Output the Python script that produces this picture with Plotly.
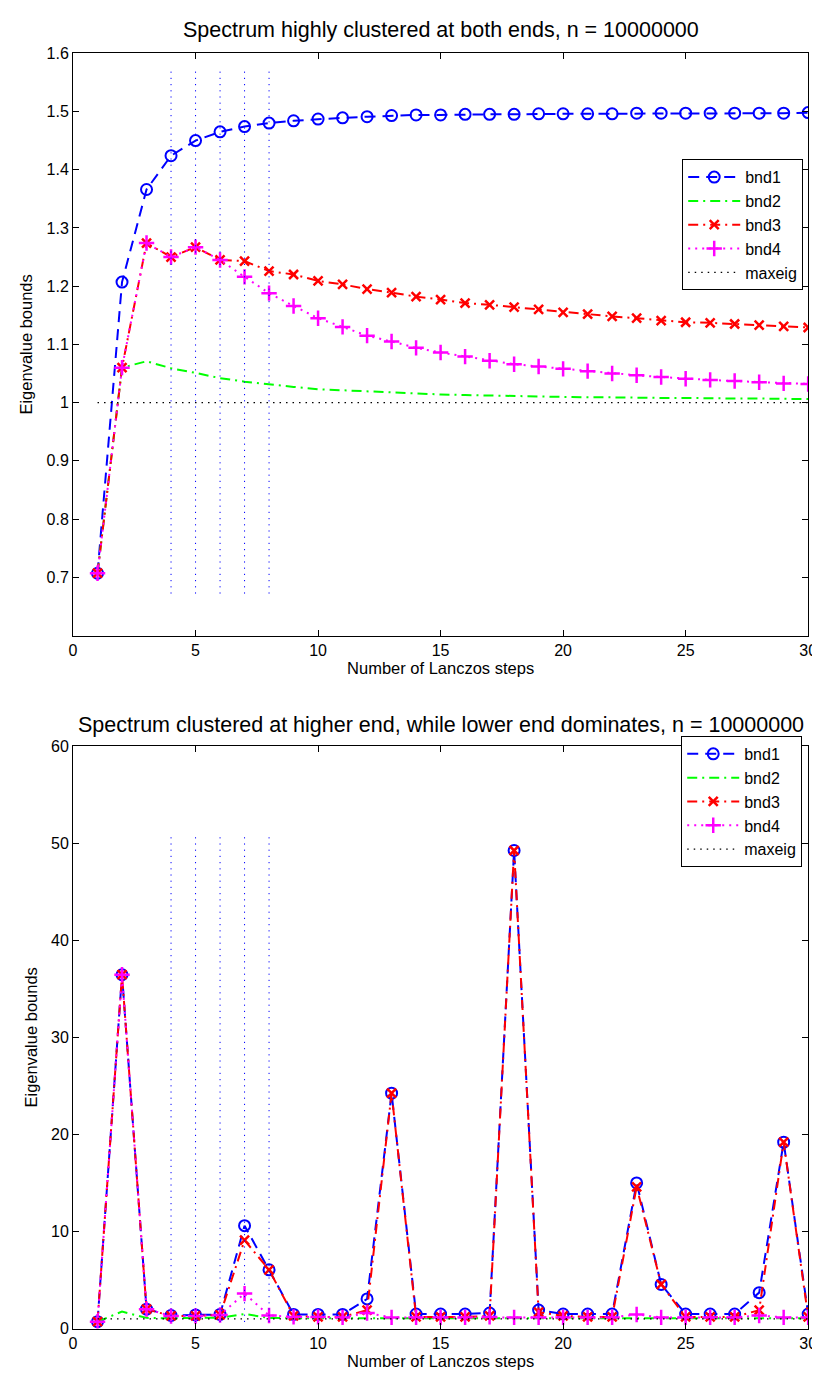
import plotly.graph_objects as go

steps = [1, 2, 3, 4, 5, 6, 7, 8, 9, 10, 11, 12, 13, 14, 15,
         16, 17, 18, 19, 20, 21, 22, 23, 24, 25, 26, 27, 28, 29, 30]

# ---- top panel: spectrum highly clustered at both ends ----
top_bnd1 = [0.707, 1.207, 1.366, 1.424, 1.450, 1.465, 1.474, 1.480, 1.484, 1.487,
            1.489, 1.491, 1.493, 1.494, 1.494, 1.495, 1.495, 1.495, 1.496, 1.496,
            1.496, 1.496, 1.497, 1.497, 1.497, 1.497, 1.497, 1.497, 1.497, 1.498]
top_bnd2 = [0.707, 1.060, 1.071, 1.059, 1.051, 1.042, 1.036, 1.031, 1.027, 1.023,
            1.021, 1.019, 1.017, 1.015, 1.014, 1.013, 1.012, 1.011, 1.011, 1.010,
            1.009, 1.009, 1.008, 1.008, 1.008, 1.007, 1.007, 1.007, 1.006, 1.006]
top_bnd3 = [0.707, 1.060, 1.274, 1.250, 1.267, 1.245, 1.243, 1.226, 1.220, 1.209,
            1.203, 1.195, 1.189, 1.182, 1.177, 1.171, 1.168, 1.164, 1.160, 1.155,
            1.152, 1.148, 1.145, 1.141, 1.138, 1.137, 1.135, 1.133, 1.131, 1.129]
top_bnd4 = [0.707, 1.060, 1.274, 1.250, 1.267, 1.245, 1.216, 1.188, 1.166, 1.145,
            1.130, 1.115, 1.105, 1.094, 1.086, 1.079, 1.072, 1.066, 1.062, 1.058,
            1.054, 1.050, 1.047, 1.044, 1.041, 1.039, 1.037, 1.035, 1.033, 1.032]
top_maxeig = 1.0
top_vline_range = [0.672, 1.570]

# ---- bottom panel: clustered at higher end, lower end dominates ----
bot_bnd1 = [0.707, 36.45, 2.0, 1.35, 1.4, 1.45, 10.6, 6.05, 1.45, 1.45,
            1.45, 3.05, 24.25, 1.5, 1.5, 1.5, 1.6, 49.25, 1.9, 1.5,
            1.5, 1.5, 15.0, 4.55, 1.5, 1.5, 1.5, 3.7, 19.2, 1.5]
bot_bnd2 = [0.707, 1.75, 1.1, 1.05, 1.1, 1.1, 1.5, 1.1, 1.05, 1.05,
            1.05, 1.1, 1.05, 1.05, 1.05, 1.05, 1.05, 1.05, 1.05, 1.05,
            1.05, 1.05, 1.05, 1.05, 1.05, 1.05, 1.05, 1.05, 1.05, 1.05]
bot_bnd3 = [0.707, 36.45, 2.0, 1.3, 1.3, 1.4, 9.1, 6.05, 1.3, 1.2,
            1.2, 1.9, 24.25, 1.2, 1.2, 1.2, 1.3, 49.25, 1.7, 1.3,
            1.2, 1.2, 14.6, 4.55, 1.2, 1.2, 1.2, 1.9, 19.2, 1.2]
bot_bnd4 = [0.707, 36.45, 2.0, 1.3, 1.3, 1.4, 3.6, 1.35, 1.2, 1.2,
            1.15, 1.6, 1.15, 1.15, 1.15, 1.15, 1.2, 1.15, 1.15, 1.15,
            1.15, 1.15, 1.45, 1.15, 1.15, 1.15, 1.15, 1.35, 1.15, 1.15]
bot_maxeig = 1.0
bot_vline_range = [0.672, 50.7]

vline_steps = [4, 5, 6, 7, 8]

top_title = "Spectrum highly clustered at both ends, n = 10000000"
bot_title = "Spectrum clustered at higher end, while lower end dominates, n = 10000000"
x_title = "Number of Lanczos steps"
y_title = "Eigenvalue bounds"
x_ticks = [0, 5, 10, 15, 20, 25, 30]
top_y_ticks = [0.7, 0.8, 0.9, 1.0, 1.1, 1.2, 1.3, 1.4, 1.5, 1.6]
top_y_ticktext = ["0.7", "0.8", "0.9", "1", "1.1", "1.2", "1.3", "1.4", "1.5", "1.6"]
bot_y_ticks = [0, 10, 20, 30, 40, 50, 60]

FONT = "Liberation Sans, Arial, Helvetica, sans-serif"

fig = go.Figure()

styles = [
    ("bnd1", "#0000ff", "11px,7px", dict(symbol="circle-open", size=11, line=dict(width=2, color="#0000ff"))),
    ("bnd2", "#00ff00", "10px,5px,2px,5px", None),
    ("bnd3", "#ff0000", "10px,5px,2px,5px", dict(symbol="x-thin-open", size=9, line=dict(width=2.5, color="#ff0000"))),
    ("bnd4", "#ff00ff", "2px,5px", dict(symbol="cross-thin-open", size=11, line=dict(width=2.5, color="#ff00ff"))),
]


def add_panel(xaxis, yaxis, legend, series, maxeig, vrange):
    for (name, color, dash, marker), ys in zip(styles, series):
        fig.add_trace(go.Scatter(
            x=steps, y=ys, name=name, xaxis=xaxis, yaxis=yaxis, legend=legend,
            mode="lines+markers" if marker else "lines",
            line=dict(color=color, width=2, dash=dash),
            marker=marker if marker else None,
        ))
    fig.add_trace(go.Scatter(
        x=[steps[0], steps[-1]], y=[maxeig, maxeig], name="maxeig",
        xaxis=xaxis, yaxis=yaxis, legend=legend, mode="lines",
        line=dict(color="black", width=1.3, dash="1.5px,5px"),
    ))
    vx, vy = [], []
    for s in vline_steps:
        vx += [s, s, None]
        vy += [vrange[0], vrange[1], None]
    fig.add_trace(go.Scatter(
        x=vx, y=vy, xaxis=xaxis, yaxis=yaxis, mode="lines", showlegend=False,
        line=dict(color="#0000ff", width=1, dash="1.2px,5px"), hoverinfo="skip",
    ))


add_panel("x", "y", "legend", [top_bnd1, top_bnd2, top_bnd3, top_bnd4], top_maxeig, top_vline_range)
add_panel("x2", "y2", "legend2", [bot_bnd1, bot_bnd2, bot_bnd3, bot_bnd4], bot_maxeig, bot_vline_range)

axis_common = dict(
    showline=True, linecolor="black", linewidth=1, mirror="ticks",
    ticks="inside", ticklen=6, tickwidth=1, tickcolor="black",
    showgrid=False, zeroline=False,
    tickfont=dict(family=FONT, size=16, color="black"),
)

x_dom = [62 / 820, 809 / 820]
top_dom = [1 - 627.3 / 1373, 1 - 37.7 / 1373]
bot_dom = [1 - 1329 / 1373, 1 - 739.3 / 1373]

fig.update_layout(
    width=820, height=1373,
    margin=dict(l=0, r=0, t=0, b=0),
    paper_bgcolor="white", plot_bgcolor="white",
    font=dict(family=FONT, color="black"),
    xaxis=dict(domain=x_dom, range=[0, 30], tickvals=x_ticks, anchor="y",
               title=dict(text=x_title, font=dict(size=16.5), standoff=4), **axis_common),
    yaxis=dict(domain=top_dom, range=[0.6, 1.6], tickvals=top_y_ticks, ticktext=top_y_ticktext,
               anchor="x", title=dict(text=y_title, font=dict(size=16.5), standoff=9), **axis_common),
    xaxis2=dict(domain=x_dom, range=[0, 30], tickvals=x_ticks, anchor="y2",
                title=dict(text=x_title, font=dict(size=16.5), standoff=4), **axis_common),
    yaxis2=dict(domain=bot_dom, range=[0, 60], tickvals=bot_y_ticks, anchor="x2",
                title=dict(text=y_title, font=dict(size=16.5), standoff=9), **axis_common),
    legend=dict(x=681 / 820, y=1 - 145 / 1373, xanchor="left", yanchor="top",
                bgcolor="white", bordercolor="black", borderwidth=1,
                font=dict(family=FONT, size=16), itemwidth=52, tracegroupgap=0),
    legend2=dict(x=680 / 820, y=1 - 729 / 1373, xanchor="left", yanchor="top",
                 bgcolor="white", bordercolor="black", borderwidth=1,
                 font=dict(family=FONT, size=16), itemwidth=52, tracegroupgap=0),
    annotations=[
        dict(text=top_title, x=0.5 * (x_dom[0] + x_dom[1]), y=1 - 14 / 1373,
             xref="paper", yref="paper", showarrow=False, yanchor="middle",
             font=dict(family=FONT, size=21.5, color="black")),
        dict(text=bot_title, x=0.5 * (x_dom[0] + x_dom[1]), y=1 - 718 / 1373,
             xref="paper", yref="paper", showarrow=False, yanchor="middle",
             font=dict(family=FONT, size=21.5, color="black")),
    ],
    showlegend=True,
)

fig.write_html("out.html")
